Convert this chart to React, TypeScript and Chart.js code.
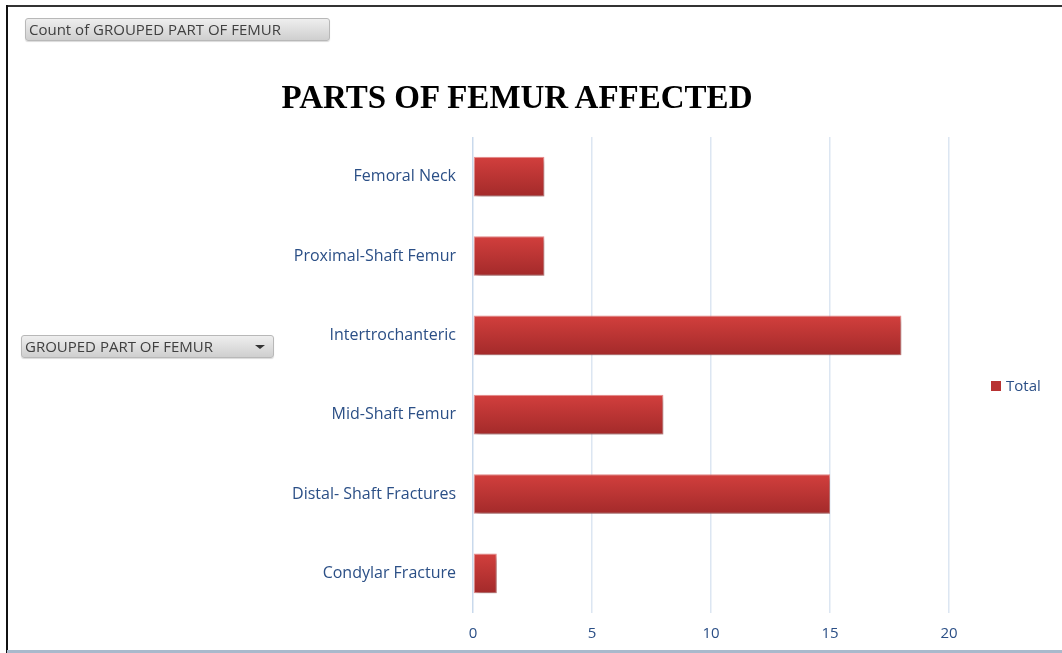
import React, { useEffect, useRef } from "react";
import { Chart, registerables } from "chart.js";

Chart.register(...registerables);

const categories = [
  "Femoral Neck",
  "Proximal-Shaft Femur",
  "Intertrochanteric",
  "Mid-Shaft Femur",
  "Distal- Shaft Fractures",
  "Condylar Fracture",
];
const totals = [3, 3, 18, 8, 15, 1];
const xTicks = [0, 5, 10, 15, 20];
const seriesName = "Total";
const chartTitle = "PARTS OF FEMUR AFFECTED";

const LABEL_COLOR = "#2B4F86";
const FONT = "'Open Sans', 'DejaVu Sans', sans-serif";
const BAR_PCT = 0.5;

const barShadow = {
  id: "barShadow",
  beforeDatasetsDraw(chart: any) {
    const ctx = chart.ctx;
    ctx.save();
    ctx.shadowColor = "rgba(0,0,0,0.35)";
    ctx.shadowBlur = 5;
    ctx.shadowOffsetX = 2;
    ctx.shadowOffsetY = 3;
  },
  afterDatasetsDraw(chart: any) {
    chart.ctx.restore();
  },
};

function barGradient(c: any) {
  const chart = c.chart;
  const yScale = chart.scales && chart.scales.y;
  if (!yScale || c.dataIndex === undefined || !chart.chartArea) return "#B83232";
  const y = yScale.getPixelForValue(c.dataIndex);
  const h = (yScale.height / categories.length) * BAR_PCT;
  const g = chart.ctx.createLinearGradient(0, y - h / 2, 0, y + h / 2);
  g.addColorStop(0, "#D23F3D");
  g.addColorStop(1, "#A32A2A");
  return g;
}

function Button({ text, left, top, width, arrow }: any) {
  return (
    <div
      style={{
        position: "absolute",
        left,
        top,
        width,
        height: 23,
        boxSizing: "border-box",
        border: "1px solid #B8B8B8",
        borderRadius: 3,
        background: "linear-gradient(#EEEEEE, #CFCFCF)",
        fontFamily: FONT,
        fontSize: 15,
        color: "#404040",
        lineHeight: "21px",
        paddingLeft: 3,
        whiteSpace: "nowrap",
        boxShadow: "0 1px 1px rgba(0,0,0,0.15)",
      }}
    >
      {text}
      {arrow && (
        <div
          style={{
            position: "absolute",
            right: 8,
            top: 9,
            width: 0,
            height: 0,
            borderLeft: "5px solid transparent",
            borderRight: "5px solid transparent",
            borderTop: "4px solid #333",
          }}
        />
      )}
    </div>
  );
}

export default function App() {
  const ref = useRef<HTMLCanvasElement>(null);
  useEffect(() => {
    if (!ref.current) return;
    const chart = new Chart(ref.current, {
      type: "bar",
      data: {
        labels: categories,
        datasets: [
          {
            label: seriesName,
            data: totals,
            backgroundColor: barGradient,
            borderColor: "rgba(235,130,130,0.9)",
            borderWidth: 1,
            borderSkipped: false,
            barPercentage: BAR_PCT,
            categoryPercentage: 1,
          },
        ],
      },
      options: {
        indexAxis: "y",
        animation: false,
        responsive: false,
        maintainAspectRatio: false,
        layout: { padding: { top: 137, left: 0, right: 113, bottom: 0 } },
        scales: {
          x: {
            min: 0,
            max: 20,
            afterBuildTicks(scale: any) {
              scale.ticks = xTicks.map((v) => ({ value: v }));
            },
            afterFit(scale: any) {
              scale.height = 40;
            },
            grid: {
              color: (c: any) => (c.tick && c.tick.value === 0 ? "#C9D9EC" : "#DCE6F2"),
              lineWidth: 1.5,
              drawTicks: false,
            },
            border: { display: false },
            ticks: {
              padding: 12,
              color: LABEL_COLOR,
              font: { family: FONT, size: 15 },
            },
          },
          y: {
            afterFit(scale: any) {
              scale.width = 473;
            },
            grid: { display: false, drawTicks: false },
            border: { display: false },
            ticks: {
              padding: 17,
              color: LABEL_COLOR,
              font: { family: FONT, size: 16 },
            },
          },
        },
        plugins: {
          title: { display: false },
          tooltip: { enabled: false },
          legend: { display: false },
        },
      },
      plugins: [barShadow],
    });
    return () => chart.destroy();
  }, []);

  return (
    <div style={{ position: "absolute", left: 0, top: 0, width: 1062, height: 653, background: "#fff", overflow: "hidden" }}>
      <canvas ref={ref} width={1062} height={653} style={{ position: "absolute", left: 0, top: 0 }} />
      <div style={{ position: "absolute", left: 7, top: 5, width: 1055, height: 2, background: "#333" }} />
      <div style={{ position: "absolute", left: 6, top: 5, width: 2, height: 648, background: "#111" }} />
      <div style={{ position: "absolute", left: 7, top: 650, width: 1055, height: 3, background: "#A9B9CC" }} />
      <div
        style={{
          position: "absolute",
          left: 0,
          top: 77,
          width: 1034,
          textAlign: "center",
          fontFamily: "'Liberation Serif', 'Times New Roman', serif",
          fontWeight: "bold",
          fontSize: 33,
          color: "#000",
          lineHeight: "40px",
        }}
      >
        {chartTitle}
      </div>
      <div
        style={{
          position: "absolute",
          left: 991,
          top: 375,
          fontFamily: FONT,
          fontSize: 15,
          color: LABEL_COLOR,
          lineHeight: "20px",
          whiteSpace: "nowrap",
        }}
      >
        <span style={{ display: "inline-block", width: 10, height: 10, background: "#B83232", marginRight: 5 }} />
        {seriesName}
      </div>
      <Button text="Count of GROUPED PART OF FEMUR" left={25} top={18} width={305} />
      <Button text="GROUPED PART OF FEMUR" left={21} top={335} width={253} arrow />
    </div>
  );
}
